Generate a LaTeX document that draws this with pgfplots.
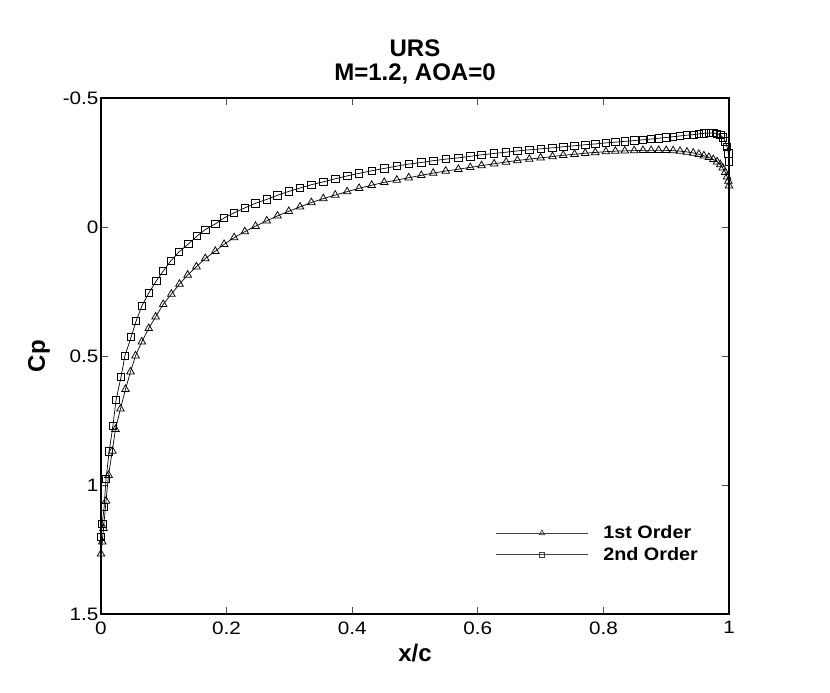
\documentclass[border=0pt]{standalone}
\usepackage{fontspec}
\setmainfont{Liberation Sans}
\newfontfamily\tickfont{Liberation Sans}[FakeStretch=1.15]
\newfontfamily\legfont{Liberation Sans}[FakeStretch=1.1]
\usepackage{pgfplots}
\pgfplotsset{compat=1.18}
\begin{document}
\begin{tikzpicture}
\path[use as bounding box] (-101pt,-79pt) rectangle (729pt,614pt);
\begin{axis}[
  scale only axis,
  width=628pt, height=516pt,
  at={(0pt,0pt)}, anchor=south west,
  xmin=0, xmax=1, ymin=-0.5, ymax=1.5,
  y dir=reverse,
  axis line style={line width=2.6pt},
  xtick={0,0.2,0.4,0.6,0.8,1},
  xticklabels={0,0.2,0.4,0.6,0.8,1},
  ytick={-0.5,0,0.5,1,1.5},
  yticklabels={-0.5,0,0.5,1,1.5},
  tick align=inside,
  major tick length=7pt,
  tick style={line width=0.8pt, black!70},
  ticklabel style={font=\tickfont\fontsize{18}{20}\selectfont},
  xticklabel style={yshift=-4pt},
  yticklabel style={xshift=1pt},
  xlabel={x/c}, ylabel={Cp},
  label style={font=\bfseries\fontsize{24}{26}\selectfont},
  xlabel style={at={(axis description cs:0.5,0)}, anchor=center, yshift=-39pt},
  ylabel style={at={(axis description cs:-0.0987,0.5)}, anchor=center},
  title={URS\\M=1.2, AOA=0},
  title style={align=center, font=\bfseries\fontsize{24}{24}\selectfont, at={(0.5,1)}, anchor=south, inner sep=0pt, yshift=8pt},
  legend style={draw=none, fill=none, at={(0.628,0.175)}, anchor=north west,
    font=\legfont\bfseries\fontsize{18}{20}\selectfont, row sep=3pt, inner sep=0pt,
    /tikz/every odd column/.append style={column sep=13pt}},
  legend cell align=left,
  legend image code/.code={\draw[#1,black!75,mark repeat=2,mark phase=2,every mark/.append style={scale=0.7}] plot coordinates {(0pt,0pt) (46pt,0pt) (92pt,0pt)};},
]
\addplot[black, line width=0.7pt, mark=triangle, mark size=4.4pt, mark options={line width=0.75pt}] coordinates {
(0.000,1.267)(0.002,1.220)(0.004,1.168)(0.008,1.062)(0.012,0.962)(0.018,0.868)(0.023,0.784)(0.031,0.705)
(0.039,0.629)(0.047,0.561)(0.055,0.499)(0.065,0.445)(0.076,0.393)(0.087,0.348)(0.099,0.300)(0.112,0.260)
(0.125,0.221)(0.138,0.186)(0.152,0.154)(0.166,0.122)(0.182,0.094)(0.196,0.067)(0.212,0.041)(0.229,0.018)
(0.246,-0.003)(0.264,-0.024)(0.281,-0.043)(0.299,-0.061)(0.317,-0.078)(0.335,-0.095)(0.354,-0.110)(0.373,-0.124)
(0.392,-0.137)(0.411,-0.150)(0.431,-0.162)(0.451,-0.173)(0.471,-0.182)(0.490,-0.191)(0.510,-0.200)(0.529,-0.209)
(0.549,-0.217)(0.569,-0.224)(0.588,-0.231)(0.606,-0.238)(0.626,-0.245)(0.645,-0.252)(0.663,-0.258)(0.682,-0.263)
(0.700,-0.268)(0.719,-0.273)(0.736,-0.278)(0.754,-0.282)(0.771,-0.286)(0.787,-0.289)(0.804,-0.292)(0.819,-0.294)
(0.834,-0.295)(0.849,-0.296)(0.863,-0.297)(0.876,-0.297)(0.888,-0.297)(0.900,-0.297)(0.911,-0.296)(0.922,-0.294)
(0.933,-0.291)(0.943,-0.287)(0.952,-0.282)(0.960,-0.276)(0.968,-0.270)(0.975,-0.262)(0.981,-0.253)(0.986,-0.242)
(0.990,-0.229)(0.994,-0.212)(0.997,-0.195)(0.999,-0.178)(1.000,-0.160)
};
\addlegendentry{1st Order}
\addplot[black, line width=0.7pt, mark=square, mark size=3.7pt, mark options={line width=0.75pt}] coordinates {
(0.000,1.200)(0.002,1.150)(0.005,1.085)(0.008,0.977)(0.013,0.870)(0.019,0.770)(0.024,0.670)(0.032,0.580)
(0.038,0.500)(0.048,0.426)(0.056,0.364)(0.065,0.306)(0.076,0.256)(0.088,0.209)(0.099,0.171)(0.111,0.132)
(0.124,0.097)(0.139,0.066)(0.153,0.035)(0.166,0.010)(0.182,-0.012)(0.196,-0.035)(0.212,-0.055)(0.229,-0.074)
(0.246,-0.092)(0.264,-0.107)(0.281,-0.123)(0.299,-0.138)(0.317,-0.151)(0.335,-0.164)(0.354,-0.175)(0.373,-0.187)
(0.392,-0.198)(0.411,-0.208)(0.431,-0.218)(0.451,-0.227)(0.471,-0.236)(0.490,-0.244)(0.510,-0.250)(0.529,-0.257)
(0.549,-0.263)(0.569,-0.268)(0.588,-0.274)(0.606,-0.280)(0.626,-0.285)(0.645,-0.290)(0.663,-0.295)(0.682,-0.299)
(0.700,-0.303)(0.719,-0.307)(0.736,-0.311)(0.754,-0.315)(0.771,-0.319)(0.787,-0.322)(0.804,-0.326)(0.819,-0.329)
(0.834,-0.332)(0.849,-0.335)(0.863,-0.338)(0.876,-0.341)(0.888,-0.344)(0.900,-0.347)(0.911,-0.350)(0.922,-0.353)
(0.933,-0.356)(0.943,-0.358)(0.952,-0.361)(0.960,-0.363)(0.968,-0.364)(0.975,-0.364)(0.981,-0.362)(0.986,-0.357)
(0.990,-0.348)(0.994,-0.332)(0.997,-0.310)(0.999,-0.285)(1.000,-0.255)
};
\addlegendentry{2nd Order}
\end{axis}
\end{tikzpicture}
\end{document}
